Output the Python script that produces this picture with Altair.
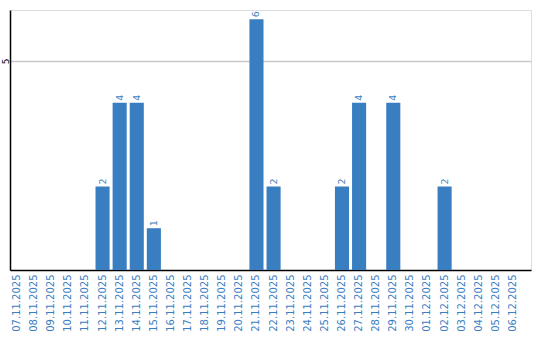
import altair as alt
import pandas as pd

dates = ["07.11.2025", "08.11.2025", "09.11.2025", "10.11.2025", "11.11.2025",
         "12.11.2025", "13.11.2025", "14.11.2025", "15.11.2025", "16.11.2025",
         "17.11.2025", "18.11.2025", "19.11.2025", "20.11.2025", "21.11.2025",
         "22.11.2025", "23.11.2025", "24.11.2025", "25.11.2025", "26.11.2025",
         "27.11.2025", "28.11.2025", "29.11.2025", "30.11.2025", "01.12.2025",
         "02.12.2025", "03.12.2025", "04.12.2025", "05.12.2025", "06.12.2025"]
counts = [0, 0, 0, 0, 0, 2, 4, 4, 1, 0, 0, 0, 0, 0, 6, 2, 0, 0, 0, 2,
          4, 0, 4, 0, 0, 2, 0, 0, 0, 0]

df = pd.DataFrame({"date": dates, "count": counts})

BLUE = "#3a7ec2"
FONT = "DejaVu Sans"

x = alt.X("date:N", sort=dates, title=None,
          scale=alt.Scale(paddingInner=0.176, paddingOuter=0.32, align=0),
          axis=alt.Axis(labelAngle=-90, labelColor=BLUE, labelFontSize=10,
                        labelFont=FONT, ticks=False, labelPadding=4,
                        domainColor="#000000", domainWidth=1.5))
y = alt.Y("count:Q", title=None,
          scale=alt.Scale(domain=[0, 6.22], nice=False),
          axis=alt.Axis(values=[5], labelAngle=-90, labelAlign="center",
                        labelBaseline="middle", labelFontSize=9, labelFont=FONT,
                        labelColor="#000000", ticks=False, labelPadding=5,
                        grid=True, gridColor="#c8c8c8", gridWidth=1.5,
                        domainColor="#000000", domainWidth=1.5))

bars = alt.Chart(df).mark_bar(color=BLUE).encode(x=x, y=y)

labels = alt.Chart(df).transform_filter("datum.count > 0").mark_text(
    angle=270, align="left", baseline="middle", dx=2, color=BLUE,
    fontSize=9.5, font=FONT
).encode(x=alt.X("date:N", sort=dates), y="count:Q", text="count:Q")

chart = alt.layer(bars, labels).properties(
    width=521, height=260,
    autosize=alt.AutoSizeParams(type="none"),
    padding={"left": 10, "top": 10, "right": 9, "bottom": 70},
).configure_view(stroke=None).configure(background="white")

chart.save("out.html", embed_options={"renderer": "svg", "actions": False})
